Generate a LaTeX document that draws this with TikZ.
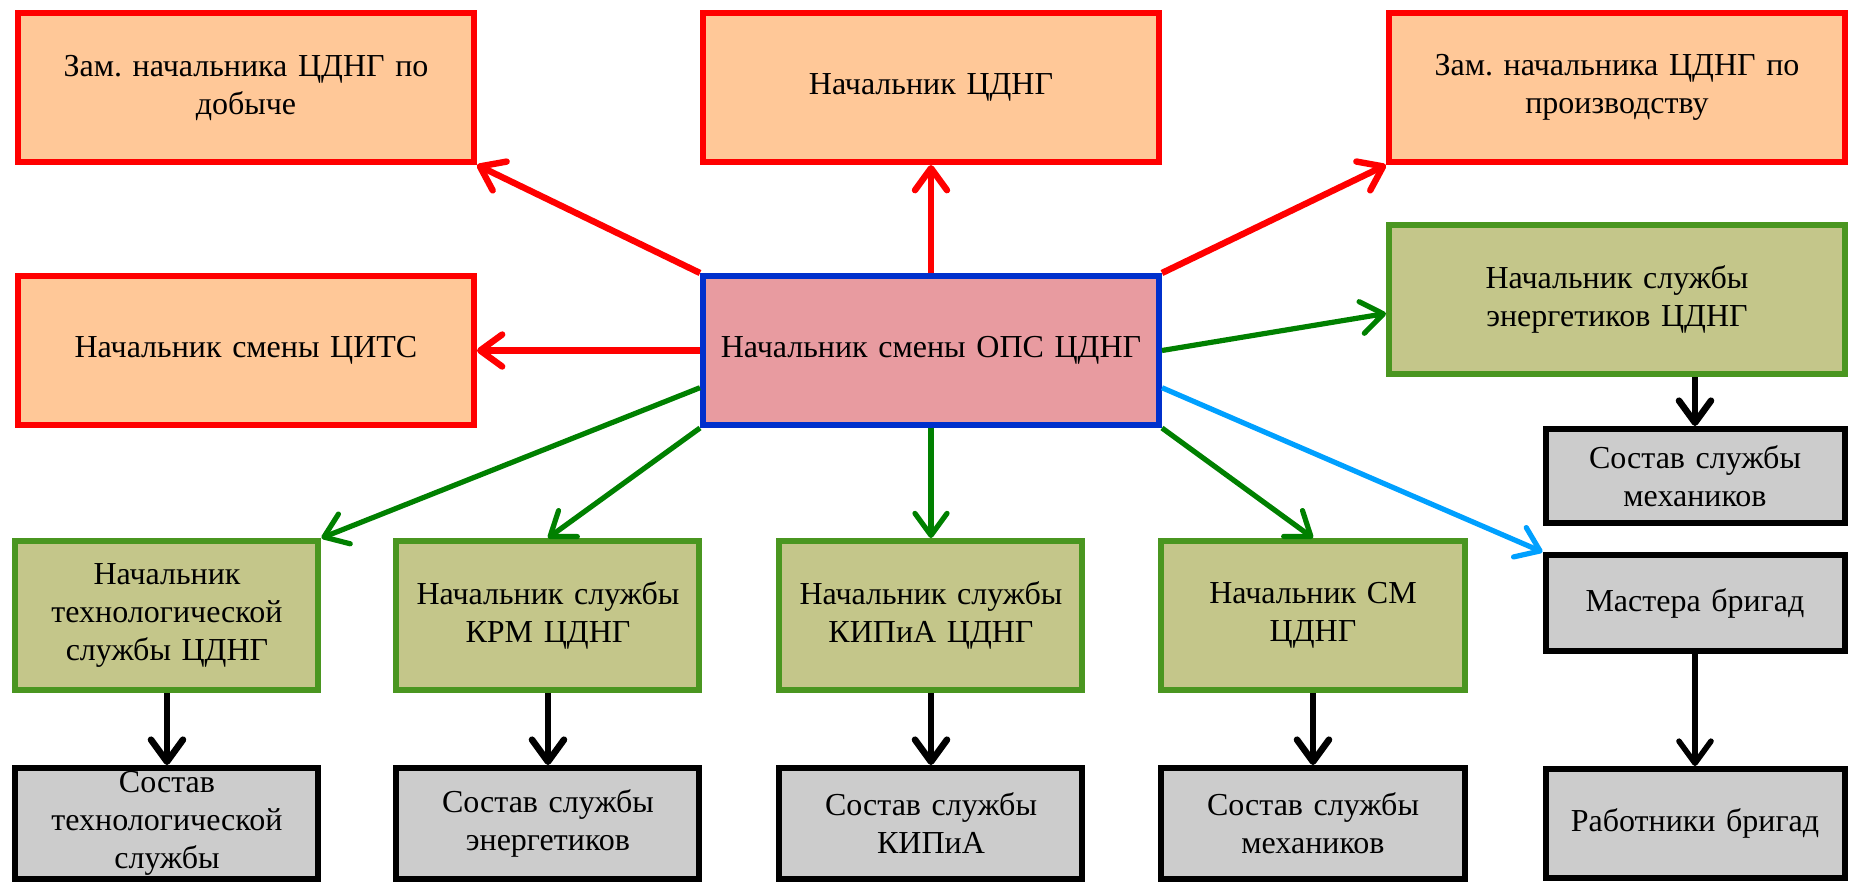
\documentclass[tikz,border=0pt]{standalone}
\usepackage{fontspec}
\setmainfont{Liberation Serif}
\frenchspacing
\usetikzlibrary{positioning,calc,arrows.meta}

\definecolor{peach}{RGB}{255,200,152}
\definecolor{opspink}{RGB}{232,155,160}
\definecolor{opsblue}{RGB}{0,48,204}
\definecolor{olivefill}{RGB}{196,198,138}
\definecolor{olivedraw}{RGB}{74,150,32}
\definecolor{arrgreen}{RGB}{0,128,0}
\definecolor{arrblue}{RGB}{0,160,255}
\definecolor{grayfill}{RGB}{204,204,204}

\tikzset{
    box/.style={rectangle, line width=3pt, align=center, inner sep=0pt,
        font=\fontsize{16}{19}\selectfont},
    boss/.style={box, draw=red, fill=peach, minimum width=228pt, minimum height=74.5pt, text width=215pt},
    opsbox/.style={box, draw=opsblue, fill=opspink, minimum width=228pt, minimum height=74.5pt, text width=215pt},
    chief/.style={box, draw=olivedraw, fill=olivefill, minimum width=151.5pt, minimum height=74.5pt, text width=140pt},
    staff/.style={box, draw=black, fill=grayfill, minimum width=151.5pt, minimum height=55.5pt, text width=140pt},
    tip/.style={-{Straight Barb[length=11pt,width=16pt,line cap=round,line join=round]}},
    redarr/.style={tip, draw=red, line width=3.2pt},
    greenarr/.style={tip, draw=arrgreen, line width=2.6pt},
    bluearr/.style={tip, draw=arrblue, line width=2.6pt},
    blackarr/.style={tip, draw=black, line width=3.3pt}
}

\begin{document}
\begin{tikzpicture}
    \useasboundingbox (-465.5pt,-270.25pt) rectangle (461.5pt,175.25pt);

    \node [opsbox] (ops) at (0,0) {Начальник смены ОПС ЦДНГ}; % shift chief in the middle
    \node [boss, above=54pt of ops] (nach) {Начальник ЦДНГ}; % head of the shop
    \node [boss, left=111.5pt of nach] (zamD) {Зам. начальника ЦДНГ по\\добыче}; % deputy, production
    \node [boss, right=112pt of nach] (zamP) {Зам. начальника ЦДНГ по\\производству}; % deputy, works
    \node [boss, left=111.5pt of ops] (cits) {Начальник смены ЦИТС};
    \node [chief, below=28.5pt of zamP, minimum width=228pt, text width=215pt] (energ) {Начальник службы\\энергетиков ЦДНГ};

    % bottom row of service chiefs
    \node [chief, below=55pt of ops] (kip) {Начальник службы\\КИПиА ЦДНГ};
    \node [chief, left=37pt of kip] (krm) {Начальник службы\\КРМ ЦДНГ};
    \node [chief, left=36pt of krm] (tech) {Начальник\\технологической\\службы ЦДНГ};
    \node [chief, right=36.5pt of kip] (sm) {Начальник СМ\\ЦДНГ};

    % their staff
    \node [staff, below=36pt of tech] (techS) {Состав\\технологической\\службы};
    \node [staff, below=36pt of krm] (krmS) {Состав службы\\энергетиков};
    \node [staff, below=36pt of kip] (kipS) {Состав службы\\КИПиА};
    \node [staff, below=36pt of sm] (smS) {Состав службы\\механиков};

    % right column
    \node [staff, right=37.5pt of smS, minimum width=149.5pt, minimum height=54.5pt] (rab) {Работники бригад};
    \node [staff, above=56pt of rab, minimum width=149.5pt, minimum height=48pt] (mast) {Мастера бригад};
    \node [staff, above=13pt of mast, minimum width=149.5pt, minimum height=47pt] (mehS) {Состав службы\\механиков};

    \draw [redarr] (ops.north west) -- (zamD.south east);
    \draw [redarr] (ops.north) -- (nach.south);
    \draw [redarr] (ops.north east) -- (zamP.south west);
    \draw [redarr] (ops.west) -- (cits.east);
    \draw [greenarr] (ops.east) -- ($(energ.south west)!0.41!(energ.north west)$);
    \draw [greenarr] ($(ops.south west)!0.26!(ops.north west)$) -- (tech.north east);
    \draw [greenarr] (ops.south west) -- (krm.north);
    \draw [greenarr] (ops.south) -- (kip.north);
    \draw [greenarr] (ops.south east) -- (sm.north);
    \draw [bluearr] ($(ops.south east)!0.26!(ops.north east)$) -- (mast.north west);

    \draw [blackarr] (tech.south) -- (techS.north);
    \draw [blackarr] (krm.south) -- (krmS.north);
    \draw [blackarr] (kip.south) -- (kipS.north);
    \draw [blackarr] (sm.south) -- (smS.north);
    \draw [blackarr] (mehS.north |- energ.south) -- (mehS.north);
    \draw [blackarr, line width=2.8pt] (mast.south) -- (rab.north);
\end{tikzpicture}
\end{document}
